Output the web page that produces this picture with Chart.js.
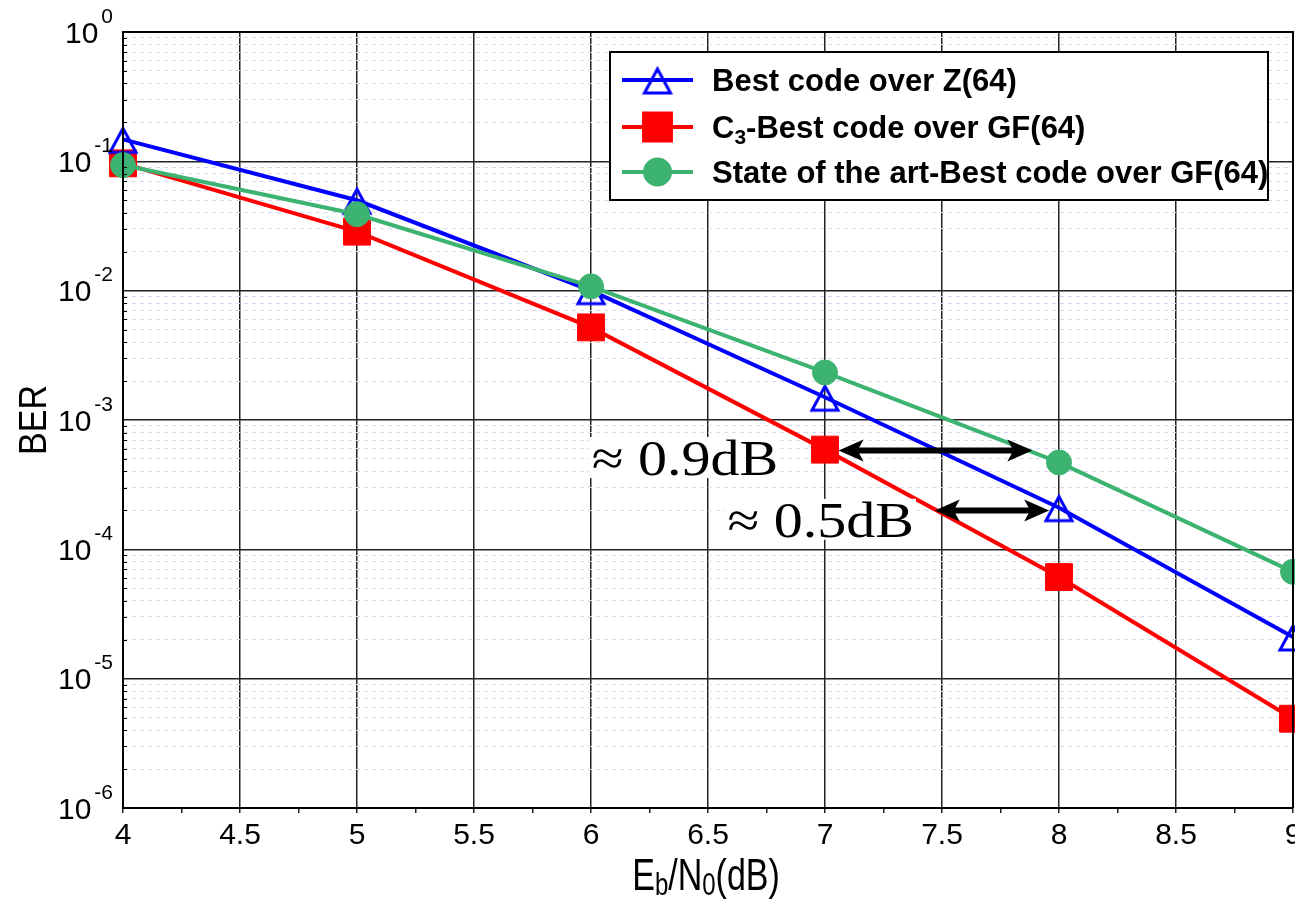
<!DOCTYPE html>
<html>
<head>
<meta charset="utf-8">
<title>BER vs Eb/N0</title>
<script src="https://cdn.jsdelivr.net/npm/chart.js@4.4.0/dist/chart.umd.min.js"></script>
<style>
  html, body { margin: 0; padding: 0; background: #fff; overflow: hidden; }
  #wrap { width: 1295px; height: 900px; position: relative; overflow: hidden; }
  #ber { position: absolute; left: 0; top: 0; }
</style>
</head>
<body>
<div id="wrap"><canvas id="ber" width="1313" height="900"></canvas></div>
<script>
/* ---- DATA ---- */
const snr          = [4, 5, 6, 7, 8, 9];
const berZ64       = [0.148, 0.050, 0.0100, 0.00150, 2.1e-4, 2.1e-5];
const berC3GF64    = [0.0965, 0.0286, 0.0052, 5.9e-4, 6.1e-5, 4.9e-6];
const berSotaGF64  = [0.0936, 0.039, 0.0108, 2.33e-3, 4.7e-4, 6.7e-5];
const seriesNames  = ['Best code over Z(64)', 'C_{3}-Best code over GF(64)', 'State of the art-Best code over GF(64)'];

const xMin = 4, xMax = 9, xStep = 0.25, xLabelStep = 0.5;
const yDecades     = [-6, -5, -4, -3, -2, -1, 0];
const yTickLabels  = ['10^{-6}', '10^{-5}', '10^{-4}', '10^{-3}', '10^{-2}', '10^{-1}', '10^{0}'];
const yMinorMult   = [2, 3, 4, 5, 6, 7, 8, 9];
const xTitle = 'E_{b}/N_{0}(dB)';
const yTitle = 'BER';

// gap annotations (data space): text right edge + baseline, arrows tip to tip
const gapNotes  = [
  { text: '\u2248 0.9dB', x: 6.80, y: 3.75e-4 },
  { text: '\u2248 0.5dB', x: 7.38, y: 1.25e-4 }
];
const gapArrows = [
  { from: 7.058, to: 7.886, y: 5.8e-4 },
  { from: 7.469, to: 7.958, y: 2.0e-4 }
];

/* ---- HELPERS ---- */
const isPow10 = v => Math.abs(Math.log10(v) - Math.round(Math.log10(v))) < 1e-9;
const isHalf  = v => Math.abs(v / xLabelStep - Math.round(v / xLabelStep)) < 1e-9;

const yTickValues = [];
yDecades.forEach(d => {
  yTickValues.push(Math.pow(10, d));
  if (d < 0) yMinorMult.forEach(m => yTickValues.push(m * Math.pow(10, d)));
});
yTickValues.sort((a, b) => a - b);

function richParts(str) {
  const parts = [], re = /([_^])\{([^}]*)\}/g;
  let last = 0, m;
  while ((m = re.exec(str))) {
    if (m.index > last) parts.push({ t: str.slice(last, m.index), k: '' });
    parts.push({ t: m[2], k: m[1] });
    last = re.lastIndex;
  }
  if (last < str.length) parts.push({ t: str.slice(last), k: '' });
  return parts;
}

// draw text with _{sub} / ^{sup}, baseline at y
function drawRich(ctx, str, x, y, o) {
  const parts = richParts(str);
  const fontOf = k => `${o.weight || 'normal'} ${k ? o.small : o.size}px ${o.family}`;
  let total = 0;
  parts.forEach(p => { ctx.font = fontOf(p.k); p.w = ctx.measureText(p.t).width; total += p.w + (p.k ? (o.gap || 0) : 0); });
  let cx = o.align === 'right' ? x - total : o.align === 'center' ? x - total / 2 : x;
  ctx.textAlign = 'left';
  ctx.textBaseline = 'alphabetic';
  parts.forEach(p => {
    ctx.font = fontOf(p.k);
    if (p.k) cx += o.gap || 0;
    const dy = p.k === '_' ? (o.drop || 0) : p.k === '^' ? -(o.rise || 0) : 0;
    ctx.fillText(p.t, cx, y + dy);
    cx += p.w;
  });
}

// open triangle marker, point sits a bit above the triangle's middle
function triangleMarker(color) {
  const c = document.createElement('canvas');
  c.width = 40; c.height = 40;
  const g = c.getContext('2d');
  g.strokeStyle = color;
  g.lineWidth = 3;
  g.lineJoin = 'miter';
  g.beginPath();
  g.moveTo(20, 9);
  g.lineTo(33, 33);
  g.lineTo(7, 33);
  g.closePath();
  g.stroke();
  return c;
}

/* ---- SERIES ---- */
const BLUE = '#0000ff', RED = '#ff0000', GREEN = '#3cb371';
const triBlue = triangleMarker(BLUE);

const toPts = arr => snr.map((x, i) => ({ x, y: arr[i] }));

const datasets = [
  {
    label: seriesNames[0], data: toPts(berZ64),
    borderColor: BLUE, backgroundColor: BLUE, borderWidth: 4,
    pointStyle: triBlue, pointRadius: 14, pointHoverRadius: 14,
    order: 1, clip: false
  },
  {
    label: seriesNames[1], data: toPts(berC3GF64),
    borderColor: RED, backgroundColor: RED, borderWidth: 4,
    pointStyle: 'rect', pointRadius: 19, pointHoverRadius: 19,
    pointBackgroundColor: RED, pointBorderColor: RED, pointBorderWidth: 1,
    order: 2, clip: false
  },
  {
    label: seriesNames[2], data: toPts(berSotaGF64),
    borderColor: GREEN, backgroundColor: GREEN, borderWidth: 4,
    pointStyle: 'circle', pointRadius: 12.5, pointHoverRadius: 12.5,
    pointBackgroundColor: GREEN, pointBorderColor: GREEN, pointBorderWidth: 1,
    order: 0, clip: false
  }
];

/* ---- OVERLAY PLUGIN: axis labels, gap notes, legend ---- */
const overlay = {
  id: 'overlay',
  afterDatasetsDraw(chart) {
    const { ctx, scales: { x, y } } = chart;

    // arrows
    ctx.save();
    ctx.fillStyle = '#000';
    ctx.strokeStyle = '#000';
    gapArrows.forEach(a => {
      const x0 = x.getPixelForValue(a.from), x1 = x.getPixelForValue(a.to);
      const py = y.getPixelForValue(a.y);
      const hl = 25, hw = 11, notch = 6;
      ctx.lineWidth = 6;
      ctx.beginPath();
      ctx.moveTo(x0 + hl - notch, py);
      ctx.lineTo(x1 - hl + notch, py);
      ctx.stroke();
      [[x0, 1], [x1, -1]].forEach(([tx, dir]) => {
        ctx.beginPath();
        ctx.moveTo(tx, py);
        ctx.lineTo(tx + dir * hl, py - hw);
        ctx.lineTo(tx + dir * (hl - notch), py);
        ctx.lineTo(tx + dir * hl, py + hw);
        ctx.closePath();
        ctx.fill();
      });
    });

    // gap texts (a touch wider, like the TeX font in the source)
    const sx = 1.16;
    ctx.font = '50px "Liberation Serif"';
    ctx.textAlign = 'right';
    ctx.textBaseline = 'alphabetic';
    gapNotes.forEach(n => {
      const px = x.getPixelForValue(n.x), py = y.getPixelForValue(n.y);
      const m = ctx.measureText(n.text);
      ctx.fillStyle = '#fff';
      ctx.fillRect(px - m.width * sx - 2, py - m.actualBoundingBoxAscent - 2, m.width * sx + 4, m.actualBoundingBoxAscent + m.actualBoundingBoxDescent + 4);
      ctx.save();
      ctx.translate(px, py);
      ctx.scale(sx, 1);
      ctx.fillStyle = '#000';
      ctx.fillText(n.text, 0, 0);
      ctx.restore();
    });
    ctx.restore();
  },
  afterDraw(chart) {
    const { ctx, chartArea: ca, scales: { x, y } } = chart;
    ctx.save();

    // frame
    ctx.strokeStyle = '#000';
    ctx.lineWidth = 2;
    ctx.beginPath();
    ctx.moveTo(ca.left, ca.bottom);
    ctx.lineTo(ca.left, ca.top);
    ctx.lineTo(ca.right, ca.top);
    ctx.lineTo(ca.right, ca.bottom);
    ctx.stroke();

    // inward minor ticks on the left axis
    ctx.lineWidth = 1;
    yTickValues.forEach(v => {
      if (isPow10(v)) return;
      const py = Math.round(y.getPixelForValue(v)) + 0.5;
      ctx.beginPath();
      ctx.moveTo(ca.left, py);
      ctx.lineTo(ca.left + 4, py);
      ctx.stroke();
    });

    // y tick labels with exponents
    ctx.fillStyle = '#000';
    yDecades.forEach((d, i) => {
      const py = y.getPixelForValue(Math.pow(10, d));
      drawRich(ctx, yTickLabels[i], ca.left - 10, py + 10.7,
        { size: 30, small: 21, rise: 20, gap: 3, family: '"Liberation Sans"', align: 'right' });
    });

    // x title (tall glyphs as in the source figure)
    ctx.save();
    ctx.translate((ca.left + ca.right) / 2 - 2, 890);
    ctx.scale(1, 1.3);
    drawRich(ctx, xTitle, 0, 0, { size: 34, small: 24, drop: 4, family: '"Liberation Sans"', align: 'center' });
    ctx.restore();

    // y title
    ctx.save();
    ctx.translate(46, 420);
    ctx.rotate(-Math.PI / 2);
    ctx.scale(1, 1.15);
    drawRich(ctx, yTitle, 0, 0, { size: 34, small: 24, family: '"Liberation Sans"', align: 'center' });
    ctx.restore();

    // legend
    const box = { left: 610, top: 52, width: 658, height: 148 };
    ctx.fillStyle = '#fff';
    ctx.fillRect(box.left, box.top, box.width, box.height);
    ctx.strokeStyle = '#000';
    ctx.lineWidth = 2;
    ctx.strokeRect(box.left, box.top, box.width, box.height);
    const rows = [28, 75, 120];
    chart.data.datasets.forEach((ds, i) => {
      const ry = box.top + rows[i];
      const l0 = box.left + 12, l1 = box.left + 83, mx = (l0 + l1) / 2;
      ctx.strokeStyle = ds.borderColor;
      ctx.lineWidth = 4;
      ctx.beginPath();
      ctx.moveTo(l0, ry);
      ctx.lineTo(l1, ry);
      ctx.stroke();
      ctx.fillStyle = ds.pointBackgroundColor || ds.backgroundColor;
      ctx.strokeStyle = ds.pointBorderColor || ds.borderColor;
      Chart.helpers.drawPoint(ctx, {
        pointStyle: ds.pointStyle, radius: ds.pointRadius, rotation: 0,
        borderWidth: ds.pointBorderWidth || 1
      }, mx, ry);
      ctx.fillStyle = '#000';
      drawRich(ctx, ds.label, box.left + 102, ry + 11,
        { size: 31, small: 21, drop: 6, weight: 'bold', family: '"Liberation Sans"', align: 'left' });
    });

    ctx.restore();
  }
};

/* ---- CHART ---- */
new Chart(document.getElementById('ber'), {
  type: 'line',
  data: { datasets },
  plugins: [overlay],
  options: {
    responsive: false,
    animation: false,
    events: [],
    layout: { padding: { top: 32, right: 4, left: 0, bottom: 0 } },
    plugins: { legend: { display: false }, tooltip: { enabled: false } },
    elements: { line: { tension: 0 } },
    scales: {
      x: {
        type: 'linear',
        min: xMin, max: xMax,
        afterFit: s => { s.height = 92; s.paddingLeft = 0; s.paddingRight = 0; },
        ticks: {
          stepSize: xStep,
          autoSkip: false,
          maxRotation: 0,
          padding: 5,
          color: '#000',
          font: { family: 'Liberation Sans', size: 30 },
          callback: v => isHalf(v) ? String(v) : ''
        },
        grid: {
          color: c => (c.tick && isHalf(c.tick.value)) ? '#222' : 'rgba(0,0,0,0)',
          lineWidth: 1.5,
          tickColor: '#222',
          tickLength: 5
        },
        border: { display: true, color: '#000', width: 2 }
      },
      y: {
        type: 'logarithmic',
        min: Math.pow(10, yDecades[0]),
        max: Math.pow(10, yDecades[yDecades.length - 1]),
        afterFit: s => { s.width = 123; },
        afterBuildTicks: s => { s.ticks = yTickValues.map(v => ({ value: v })); },
        ticks: { display: false, autoSkip: false },
        grid: {
          drawTicks: false,
          color: c => (c.tick && !isPow10(c.tick.value)) ? '#d8d8f0' : '#222',
          lineWidth: c => (c.tick && !isPow10(c.tick.value)) ? 1 : 1.5
        },
        border: {
          display: true, color: '#000', width: 2,
          dash: c => (c.tick && !isPow10(c.tick.value)) ? [4, 4] : []
        }
      }
    }
  }
});
</script>
</body>
</html>
